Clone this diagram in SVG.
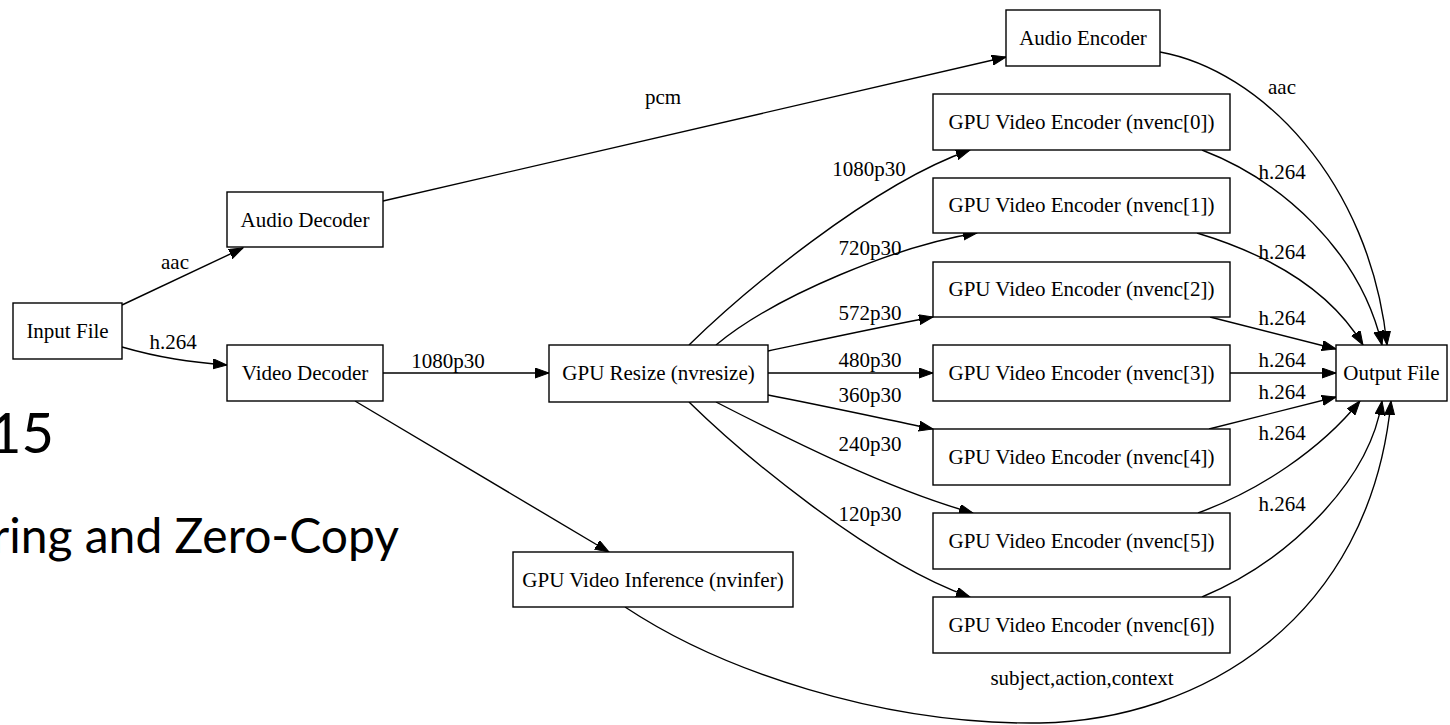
<svg xmlns="http://www.w3.org/2000/svg" width="1450" height="725" viewBox="0 0 1450 725">
<style>
.box{fill:#fff;stroke:#000;stroke-width:1.4}
.nt{font-family:"Liberation Serif","Times New Roman",serif;font-size:21px;fill:#000;text-anchor:middle}
.el{font-family:"Liberation Serif","Times New Roman",serif;font-size:21px;fill:#000;text-anchor:middle}
.e{fill:none;stroke:#000;stroke-width:1.4;marker-end:url(#arr)}
.slide{font-family:Lato,"Open Sans",sans-serif;fill:#000}
</style>
<defs>
<marker id="arr" markerWidth="15" markerHeight="11" refX="14" refY="5" orient="auto" markerUnits="userSpaceOnUse">
<path d="M0,0 L14,5 L0,10 z" fill="#000" stroke="#000" stroke-width="1"/>
</marker>
</defs>
<rect x="0" y="0" width="1450" height="725" fill="#fff"/>
<g id="slide-text">
<text class="slide" x="54" y="453" font-size="56" text-anchor="end">15</text>
<text class="slide" x="399" y="553" font-size="48" text-anchor="end">ring and Zero-Copy</text>
</g>
<g id="connectors">
<path class="e" d="M122,305 L243,248"/>
<path class="e" d="M122,347 C160,358 190,362 227,365"/>
<path class="e" d="M383,201 L1006,57"/>
<path class="e" d="M383,373 L549,373"/>
<path class="e" d="M355,401 L609,552"/>
<path class="e" d="M689,345 C740,295 870,185 970,150"/>
<path class="e" d="M716,345 C776,295 900,245 977,233"/>
<path class="e" d="M768,351 C820,340 880,327 933,317"/>
<path class="e" d="M768,373 L933,373"/>
<path class="e" d="M768,395 C820,405 880,418 933,429"/>
<path class="e" d="M716,402 C790,440 890,490 973,513"/>
<path class="e" d="M689,402 C740,452 870,562 970,597"/>
<path class="e" d="M1160,52 C1260,70 1370,180 1387,345"/>
<path class="e" d="M1202,150 C1280,180 1360,250 1382,345"/>
<path class="e" d="M1197,233 C1270,255 1330,290 1363,345"/>
<path class="e" d="M1210,317 L1336,349"/>
<path class="e" d="M1230,373 L1336,373"/>
<path class="e" d="M1209,429 L1336,397"/>
<path class="e" d="M1198,513 C1260,490 1320,450 1360,401"/>
<path class="e" d="M1202,597 C1290,560 1370,480 1382,401"/>
<path class="e" d="M625,607 C720,670 880,725 1040,723 C1200,720 1370,620 1391,401"/>
<text class="el" x="175" y="269">aac</text>
<text class="el" x="173" y="349">h.264</text>
<text class="el" x="663" y="104">pcm</text>
<text class="el" x="448" y="368">1080p30</text>
<text class="el" x="869" y="176">1080p30</text>
<text class="el" x="870" y="255">720p30</text>
<text class="el" x="870" y="320">572p30</text>
<text class="el" x="870" y="367">480p30</text>
<text class="el" x="870" y="402">360p30</text>
<text class="el" x="870" y="451">240p30</text>
<text class="el" x="870" y="521">120p30</text>
<text class="el" x="1282" y="94">aac</text>
<text class="el" x="1282" y="179">h.264</text>
<text class="el" x="1282" y="259">h.264</text>
<text class="el" x="1282" y="325">h.264</text>
<text class="el" x="1282" y="367">h.264</text>
<text class="el" x="1282" y="399">h.264</text>
<text class="el" x="1282" y="440">h.264</text>
<text class="el" x="1282" y="511">h.264</text>
<text class="el" x="1082" y="685">subject,action,context</text>
</g>
<g id="input-file"><rect class="box" x="13" y="303" width="109" height="56"/><text class="nt" x="67.5" y="338">Input File</text></g>
<g id="audio-decoder"><rect class="box" x="227" y="192" width="156" height="55"/><text class="nt" x="305" y="227">Audio Decoder</text></g>
<g id="video-decoder"><rect class="box" x="227" y="345" width="156" height="56"/><text class="nt" x="305" y="380">Video Decoder</text></g>
<g id="gpu-resize"><rect class="box" x="549" y="345" width="219" height="57"/><text class="nt" x="658.5" y="380">GPU Resize (nvresize)</text></g>
<g id="gpu-inference"><rect class="box" x="513" y="552" width="280" height="55"/><text class="nt" x="653" y="587">GPU Video Inference (nvinfer)</text></g>
<g id="audio-encoder"><rect class="box" x="1006" y="10" width="154" height="56"/><text class="nt" x="1083" y="45">Audio Encoder</text></g>
<g id="nvenc0"><rect class="box" x="933" y="94" width="297" height="56"/><text class="nt" x="1081.5" y="129">GPU Video Encoder (nvenc[0])</text></g>
<g id="nvenc1"><rect class="box" x="933" y="178" width="297" height="55"/><text class="nt" x="1081.5" y="212">GPU Video Encoder (nvenc[1])</text></g>
<g id="nvenc2"><rect class="box" x="933" y="262" width="297" height="55"/><text class="nt" x="1081.5" y="296">GPU Video Encoder (nvenc[2])</text></g>
<g id="nvenc3"><rect class="box" x="933" y="345" width="297" height="56"/><text class="nt" x="1081.5" y="380">GPU Video Encoder (nvenc[3])</text></g>
<g id="nvenc4"><rect class="box" x="933" y="429" width="297" height="56"/><text class="nt" x="1081.5" y="464">GPU Video Encoder (nvenc[4])</text></g>
<g id="nvenc5"><rect class="box" x="933" y="513" width="297" height="56"/><text class="nt" x="1081.5" y="548">GPU Video Encoder (nvenc[5])</text></g>
<g id="nvenc6"><rect class="box" x="933" y="597" width="297" height="56"/><text class="nt" x="1081.5" y="632">GPU Video Encoder (nvenc[6])</text></g>
<g id="output-file"><rect class="box" x="1336" y="345" width="111" height="56"/><text class="nt" x="1391.5" y="380">Output File</text></g>
</svg>
